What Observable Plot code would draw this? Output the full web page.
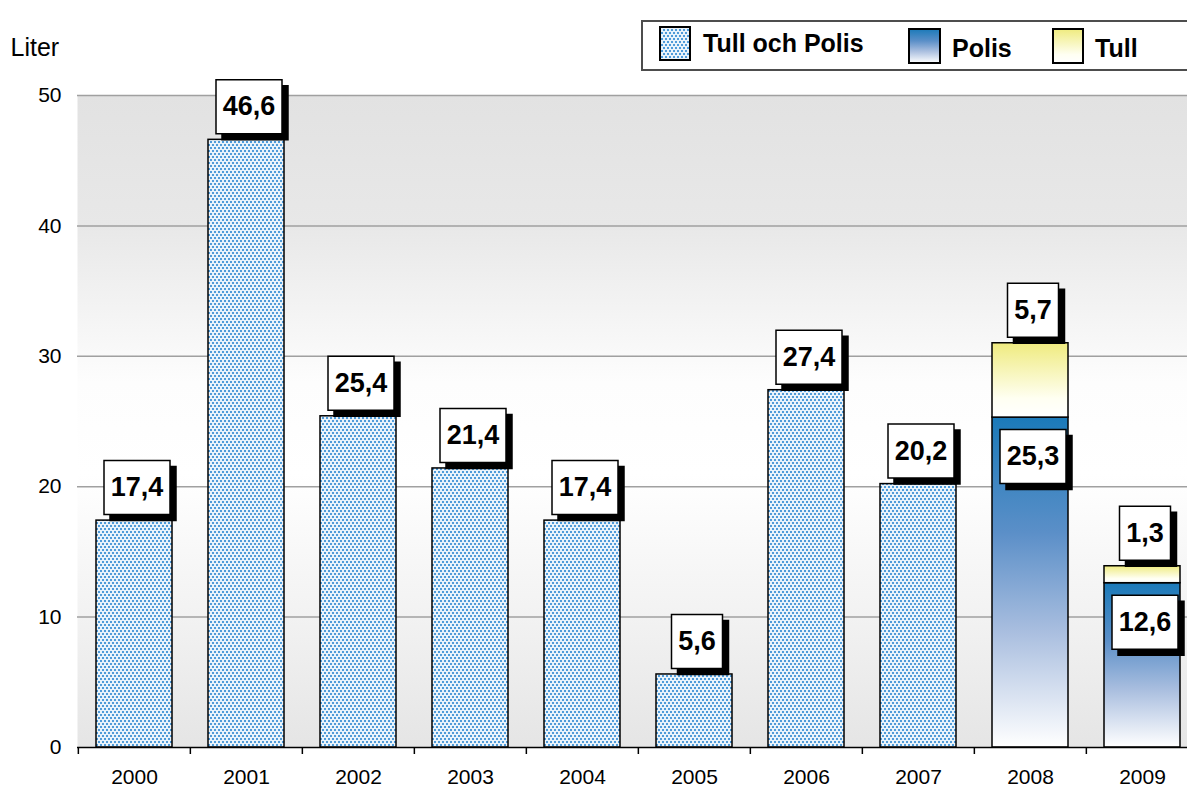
<!DOCTYPE html>
<html><head><meta charset="utf-8">
<script src="https://cdn.jsdelivr.net/npm/d3@7"></script>
<script src="https://cdn.jsdelivr.net/npm/@observablehq/plot@0.6"></script>
<style>
html,body{margin:0;padding:0;background:#fff;overflow:hidden;font-family:"Liberation Sans",Arial,sans-serif;}
#wrap{position:relative;width:1187px;height:790px;overflow:hidden;}
#chart{position:absolute;left:0;top:0;}
#legend{position:absolute;left:641px;top:20px;}
</style></head><body>
<svg width="0" height="0" style="position:absolute">
  <defs>
    <linearGradient id="bgGrad" x1="0" y1="0" x2="0" y2="1">
      <stop offset="0" stop-color="#e2e2e2"/>
      <stop offset="0.2" stop-color="#e8e8e8"/>
      <stop offset="0.44" stop-color="#fdfdfd"/>
      <stop offset="0.58" stop-color="#ffffff"/>
      <stop offset="0.8" stop-color="#f2f2f2"/>
      <stop offset="1" stop-color="#e5e5e5"/>
    </linearGradient>
    <linearGradient id="polisGrad" x1="0" y1="0" x2="0" y2="1">
      <stop offset="0" stop-color="#1b7ab9"/>
      <stop offset="0.35" stop-color="#5b8fc8"/>
      <stop offset="0.65" stop-color="#a9bedf"/>
      <stop offset="1" stop-color="#ffffff"/>
    </linearGradient>
    <linearGradient id="tullGrad" x1="0" y1="0" x2="0" y2="1">
      <stop offset="0" stop-color="#efeb7f"/>
      <stop offset="0.75" stop-color="#fffff2"/>
      <stop offset="1" stop-color="#ffffff"/>
    </linearGradient>
    <pattern id="dots" width="4" height="6" patternUnits="userSpaceOnUse">
      <rect width="4" height="6" fill="#e9f3fb"/>
      <rect x="0" y="0" width="2" height="2" fill="#4f9bd9"/>
      <rect x="2" y="3" width="2" height="2" fill="#4f9bd9"/>
    </pattern>
  </defs>
</svg>
<div id="wrap">
  <div id="chart"></div>
  <svg id="legend" width="546" height="52">
    <rect x="1" y="1" width="600" height="49" fill="#fff" stroke="#4d4d4d" stroke-width="2"/>
    <rect x="19" y="7" width="30" height="33" fill="url(#dots)" stroke="#000" stroke-width="2"/>
    <text x="62" y="32" font-size="25" font-weight="bold" font-family="Liberation Sans, Arial, sans-serif">Tull och Polis</text>
    <rect x="268" y="9" width="31" height="34" fill="url(#polisGrad)" stroke="#000" stroke-width="2"/>
    <text x="311" y="37" font-size="25" font-weight="bold" font-family="Liberation Sans, Arial, sans-serif">Polis</text>
    <rect x="412" y="9" width="30" height="34" fill="url(#tullGrad)" stroke="#000" stroke-width="2"/>
    <text x="454" y="37" font-size="25" font-weight="bold" font-family="Liberation Sans, Arial, sans-serif">Tull</text>
  </svg>
</div>
<script>
const years = ["2000","2001","2002","2003","2004","2005","2006","2007","2008","2009"];
const tullOchPolis = [17.4, 46.6, 25.4, 21.4, 17.4, 5.6, 27.4, 20.2, null, null];
const polis = [null, null, null, null, null, null, null, null, 25.3, 12.6];
const tull = [null, null, null, null, null, null, null, null, 5.7, 1.3];
const yTicks = [0, 10, 20, 30, 40, 50];

const fmt = v => d3.format(".1f")(v).replace(".", ",");

const combined = years.map((year, i) => ({year, value: tullOchPolis[i]})).filter(d => d.value != null);
const polisRows = years.map((year, i) => ({year, y1: 0, y2: polis[i]})).filter(d => d.y2 != null);
const tullRows = years.map((year, i) => ({year, y1: polis[i], y2: polis[i] + tull[i], v: tull[i]})).filter(d => d.v != null);

const aboveLabels = [
  ...combined.map(d => ({year: d.year, y: d.value, text: fmt(d.value)})),
  ...tullRows.map(d => ({year: d.year, y: d.y2, text: fmt(d.v)}))
];
const insideLabels = polisRows.map(d => ({year: d.year, y: d.y2, text: fmt(d.y2)}));

const xRange = [77, 1200];
const step = (xRange[1] - xRange[0]) / years.length;

const boxSymbol = w => ({draw(ctx) { ctx.rect(-w / 2, -27, w, 54); }});
const box4 = boxSymbol(66), box3 = boxSymbol(51);

function labelMarks(data, dy) {
  const marks = [];
  for (const [sym, filt] of [[box4, d => d.text.length >= 4], [box3, d => d.text.length < 4]]) {
    const sub = data.filter(filt);
    marks.push(Plot.dot(sub, {x: "year", y: "y", symbol: sym, r: 5, fill: "#000", stroke: "#000", strokeWidth: 1.5, dx: 2.5 + 6, dy: dy + 6}));
    marks.push(Plot.dot(sub, {x: "year", y: "y", symbol: sym, r: 5, fill: "#fff", stroke: "#000", strokeWidth: 1.5, dx: 2.5, dy: dy}));
  }
  marks.push(Plot.text(data, {x: "year", y: "y", text: "text", fontSize: 27, fontWeight: "bold", fill: "#000", dx: 2.5, dy: dy}));
  return marks;
}

const chart = Plot.plot({
  width: 1187,
  height: 790,
  marginTop: 95,
  marginBottom: 43,
  marginLeft: 77,
  marginRight: 0,
  style: {fontFamily: "Liberation Sans, Arial, sans-serif", fontSize: "21px", background: "transparent", overflow: "visible"},
  x: {domain: years, range: xRange, paddingInner: 0.32, paddingOuter: 0.16},
  y: {domain: [0, 50]},
  marks: [
    Plot.frame({fill: "url(#bgGrad)", stroke: "none"}),
    Plot.ruleY(yTicks.filter(v => v > 0), {stroke: "#a0a0a0", strokeWidth: 1.5}),
    Plot.barY(combined, {x: "year", y: "value", fill: "url(#dots)", stroke: "#000", strokeWidth: 1.5}),
    Plot.barY(polisRows, {x: "year", y1: "y1", y2: "y2", fill: "url(#polisGrad)", stroke: "#000", strokeWidth: 1.5}),
    Plot.barY(tullRows, {x: "year", y1: "y1", y2: "y2", fill: "url(#tullGrad)", stroke: "#000", strokeWidth: 1.5}),
    Plot.ruleY([0], {stroke: "#000", strokeWidth: 1.5}),
    Plot.axisX({tickSize: 0, tickPadding: 22, fontSize: 21, label: null}),
    Plot.axisX({tickSize: 7, text: null, dx: -step / 2, stroke: "#000", strokeWidth: 1.5, label: null}),
    Plot.axisY({ticks: yTicks, tickSize: 0, tickPadding: 16, fontSize: 21, label: null}),
    Plot.text(["Liter"], {text: d => d, frameAnchor: "top-left", dx: -67, dy: -57, fontSize: 25, textAnchor: "start"}),
    ...labelMarks(aboveLabels, -33),
    ...labelMarks(insideLabels, 39)
  ]
});
document.getElementById("chart").appendChild(chart);
</script>
</body></html>
